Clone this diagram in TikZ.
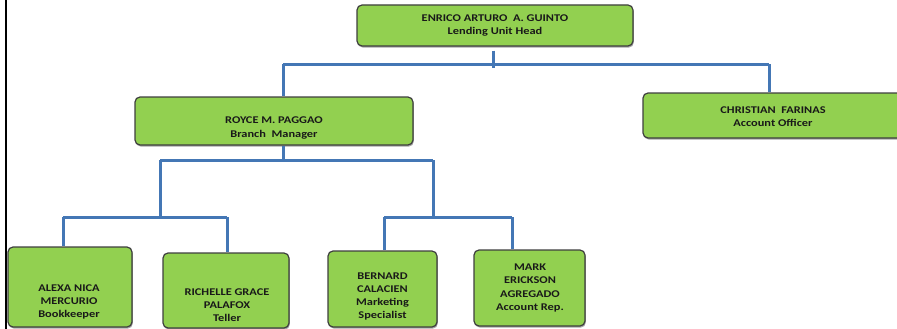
\documentclass[tikz,border=0pt]{standalone}
\usepackage{fontspec}
\setmainfont{Carlito}[FakeStretch=1.2]
\usetikzlibrary{shadows}
\definecolor{boxgreen}{HTML}{92D050}
\definecolor{boxedge}{HTML}{3F3F3F}
\definecolor{linkblue}{HTML}{4477B5}
\begin{document}
\begin{tikzpicture}[x=1pt,y=-1pt,
 box/.style={draw=boxedge, line width=1.2pt, fill=boxgreen, rounded corners=5pt,
   drop shadow={shadow xshift=0.8pt, shadow yshift=-1.6pt, opacity=0.35, fill=black}, inner sep=0pt},
 lbl/.style={font=\fontsize{10.3}{13.2}\selectfont\bfseries, align=center, text=black!90, inner sep=0pt},
 link/.style={draw=linkblue, line width=3pt}]
\useasboundingbox (0,0) rectangle (897,329);
\clip (0,0) rectangle (897,329);
\fill[white] (0,0) rectangle (897,329);
% left frame line
\draw[line width=2pt, black] (6,-2) -- (6,331);
% boxes
\node[box, minimum width=276pt, minimum height=41pt] (enrico) at (495,25.5) {};
\node[box, minimum width=278pt, minimum height=48pt] (royce) at (274,121) {};
\node[box, minimum width=262pt, minimum height=45pt] (christian) at (774,115.5) {};
\node[box, minimum width=124pt, minimum height=80pt] (alexa) at (70,287) {};
\node[box, minimum width=126pt, minimum height=75pt] (richelle) at (226,290.5) {};
\node[box, minimum width=109pt, minimum height=76pt] (bernard) at (382.5,289) {};
\node[box, minimum width=111pt, minimum height=76pt] (mark) at (529.5,288) {};
% labels
\node[lbl] (enrico-t) at (495,25.5) {ENRICO ARTURO~~A. GUINTO\\Lending Unit Head};
\node[lbl] (royce-t) at (274,128) {ROYCE M. PAGGAO\\Branch~~Manager};
\node[lbl] (christian-t) at (773,116.5) {CHRISTIAN~~FARINAS\\Account Officer};
\node[lbl] (alexa-t) at (69,302) {ALEXA NICA\\MERCURIO\\Bookkeeper};
\node[lbl] (richelle-t) at (227,305) {RICHELLE GRACE\\PALAFOX\\Teller};
\node[lbl] (bernard-t) at (382.5,296.5) {BERNARD\\CALACIEN\\Marketing\\Specialist};
\node[lbl] (mark-t) at (530,288) {MARK\\ERICKSON\\AGREGADO\\Account Rep.};
% junctions
\coordinate (tj) at (493,64.5);
\coordinate (tl) at (283,64.5);
\coordinate (tr) at (769,64.5);
\coordinate (rj) at (283,160);
\coordinate (rl) at (160,160);
\coordinate (rr) at (433,160);
\coordinate (lj) at (160,217);
\coordinate (ll) at (63,217);
\coordinate (lr) at (227,217);
\coordinate (mj) at (433,217);
\coordinate (ml) at (384,217);
\coordinate (mr) at (512,217);
% connectors
\draw[link] ([yshift=-4pt]enrico.south -| tj) -- ([yshift=-3.5pt]tj);
\draw[link] (tl) -- (tr);
\draw[link] (tl) -- (royce.north -| tl);
\draw[link] (tr) -- (christian.north -| tr);
\draw[link] (royce.south -| rj) -- (rj);
\draw[link] (rl) -- (rr);
\draw[link] (rl) -- (lj);
\draw[link] (rr) -- (mj);
\draw[link] (ll) -- (lr);
\draw[link] (ml) -- (mr);
\draw[link] (ll) -- (alexa.north -| ll);
\draw[link] (lr) -- (richelle.north -| lr);
\draw[link] (ml) -- (bernard.north -| ml);
\draw[link] (mr) -- (mark.north -| mr);
\end{tikzpicture}
\end{document}
